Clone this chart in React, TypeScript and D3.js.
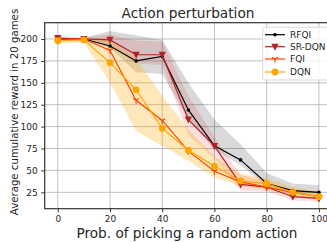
import React, { useEffect, useRef } from 'react';
import * as d3 from 'd3';

const probs = [0, 10, 20, 30, 40, 50, 60, 70, 80, 90, 100];

const rfqi = [200, 200, 192, 175, 180, 119, 78, 62, 35, 27, 25];
const rfqiLo = [199, 199, 190, 162, 160, 108, 74, 56, 32, 24, 22];
const rfqiHi = [201, 201, 209, 204, 199, 150, 108, 80, 47, 35, 33];

const srdqn = [201, 200, 199, 182, 182, 108, 78, 34, 31, 20, 18];
const srdqnLo = [199, 198, 193, 172, 170, 90, 64, 27, 26, 16, 14];
const srdqnHi = [203, 202, 205, 198, 197, 135, 88, 45, 37, 26, 22];

const fqi = [200, 200, 187, 130, 107, 72, 49, 37, 31, 25, 20];

const dqn = [198, 199, 173, 142, 98, 73, 55, 38, 35, 25, 20];
const dqnLo = [195, 196, 150, 95, 78, 61, 42, 32, 28, 21, 15];
const dqnHi = [201, 201, 198, 178, 135, 97, 66, 46, 41, 31, 26];

const xTicks = [0, 20, 40, 60, 80, 100];
const yTicks = [25, 50, 75, 100, 125, 150, 175, 200];
const names = ['RFQI', 'SR-DQN', 'FQI', 'DQN'];
const colors = ['#000000', '#b22222', '#ff4500', '#ffa500'];

function App() {
  const svgRef = useRef(null);

  useEffect(() => {
    const svg = d3.select(svgRef.current);
    const font = 'DejaVu Sans';

    const x = d3.scaleLinear().domain([-5, 105]).range([44.7, 332]);
    const y = d3.scaleLinear().domain([6.3, 218.6]).range([208.7, 22.7]);

    // grid
    svg.append('g').selectAll('line').data(xTicks).enter().append('line')
      .attr('x1', (d) => x(d)).attr('x2', (d) => x(d))
      .attr('y1', y.range()[1]).attr('y2', y.range()[0])
      .attr('stroke', '#b0b0b0').attr('stroke-width', 0.8);
    svg.append('g').selectAll('line').data(yTicks).enter().append('line')
      .attr('x1', x.range()[0]).attr('x2', x.range()[1])
      .attr('y1', (d) => y(d)).attr('y2', (d) => y(d))
      .attr('stroke', '#b0b0b0').attr('stroke-width', 0.8);

    // bands
    const area = (lo, hi) => d3.area()
      .x((_, i) => x(probs[i]))
      .y0((_, i) => y(lo[i]))
      .y1((_, i) => y(hi[i]))(probs);
    svg.append('path').attr('d', area(rfqiLo, rfqiHi)).attr('fill', '#000').attr('fill-opacity', 0.15);
    svg.append('path').attr('d', area(srdqnLo, srdqnHi)).attr('fill', '#d62728').attr('fill-opacity', 0.15);
    svg.append('path').attr('d', area(dqnLo, dqnHi)).attr('fill', '#ffa500').attr('fill-opacity', 0.27);

    const line = d3.line().x((_, i) => x(probs[i])).y((d) => y(d));

    const drawMarker = (g, kind, color, cx, cy) => {
      if (kind === 'dot') {
        g.append('circle').attr('cx', cx).attr('cy', cy).attr('r', 1.8).attr('fill', color);
      } else if (kind === 'tri') {
        g.append('path').attr('d', `M${cx - 3.6},${cy - 3}L${cx + 3.6},${cy - 3}L${cx},${cy + 4}Z`).attr('fill', color);
      } else if (kind === 'tri1') {
        g.append('path').attr('d', `M${cx},${cy}L${cx},${cy + 3.5}M${cx},${cy}L${cx - 3},${cy - 1.8}M${cx},${cy}L${cx + 3},${cy - 1.8}`)
          .attr('stroke', color).attr('stroke-width', 1.2).attr('fill', 'none');
      } else {
        g.append('circle').attr('cx', cx).attr('cy', cy).attr('r', 3.4).attr('fill', color);
      }
    };

    const series = [rfqi, srdqn, fqi, dqn];
    const kinds = ['dot', 'tri', 'tri1', 'circle'];
    series.forEach((s, k) => {
      const g = svg.append('g');
      g.append('path').attr('d', line(s)).attr('fill', 'none').attr('stroke', colors[k]).attr('stroke-width', 1.2);
      s.forEach((v, i) => drawMarker(g, kinds[k], colors[k], x(probs[i]), y(v)));
    });

    // spines
    svg.append('rect').attr('x', x.range()[0]).attr('y', y.range()[1])
      .attr('width', x.range()[1] - x.range()[0]).attr('height', y.range()[0] - y.range()[1])
      .attr('fill', 'none').attr('stroke', '#333').attr('stroke-width', 1.2);

    // axes
    const xAxis = svg.append('g').attr('transform', `translate(0,${y.range()[0]})`)
      .call(d3.axisBottom(x).tickValues(xTicks).tickSize(3.5).tickPadding(3.5));
    const yAxis = svg.append('g').attr('transform', `translate(${x.range()[0]},0)`)
      .call(d3.axisLeft(y).tickValues(yTicks).tickSize(3.5).tickPadding(3.5));
    [xAxis, yAxis].forEach((a) => {
      a.select('.domain').remove();
      a.selectAll('line').attr('stroke', '#333');
      a.selectAll('text').attr('font-family', font).attr('font-size', 9).attr('fill', '#262626');
    });

    // legend
    const lg = svg.append('g');
    lg.append('rect').attr('x', 262.7).attr('y', 27.3).attr('width', 72).attr('height', 52.7).attr('rx', 2)
      .attr('fill', '#fff').attr('fill-opacity', 0.8).attr('stroke', '#d0d0d0').attr('stroke-width', 0.8);
    const rowY = [34.7, 46.7, 59, 72];
    names.forEach((n, k) => {
      lg.append('line').attr('x1', 265).attr('x2', 285).attr('y1', rowY[k]).attr('y2', rowY[k])
        .attr('stroke', colors[k]).attr('stroke-width', 1.2);
      drawMarker(lg, kinds[k], colors[k], 275, rowY[k]);
      lg.append('text').attr('x', 290).attr('y', rowY[k]).attr('dy', '0.35em')
        .attr('font-family', font).attr('font-size', 9).attr('fill', '#262626').text(n);
    });

    // titles
    svg.append('text').attr('x', 188).attr('y', 18).attr('text-anchor', 'middle')
      .attr('font-family', font).attr('font-size', 13.7).attr('fill', '#262626').text('Action perturbation');
    svg.append('text').attr('x', 187).attr('y', 238).attr('text-anchor', 'middle')
      .attr('font-family', font).attr('font-size', 13.6).attr('fill', '#262626').text('Prob. of picking a random action');
    svg.append('text').attr('transform', 'translate(17.5,112) rotate(-90)').attr('text-anchor', 'middle')
      .attr('font-family', font).attr('font-size', 10.2).attr('fill', '#262626').text('Average cumulative reward in 20 games');

    return () => svg.selectAll('*').remove();
  }, []);

  return (
    <svg ref={svgRef} width={327} height={242} style={{ position: 'absolute', left: 0, top: 0 }}></svg>
  );
}

export default App;
